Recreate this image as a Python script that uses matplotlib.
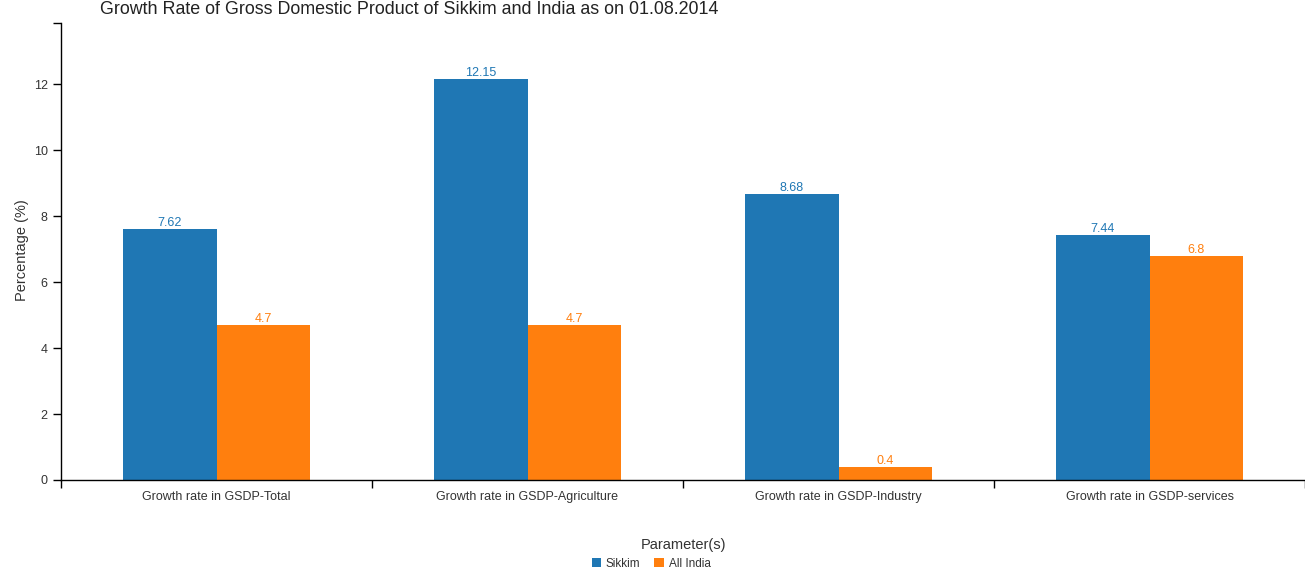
import numpy as np
import matplotlib.pyplot as plt
from matplotlib.ticker import FixedLocator, NullFormatter

plt.rcParams['font.family'] = ['Liberation Sans', 'DejaVu Sans']

# Chart data
categories = ["Growth rate in GSDP-Total", "Growth rate in GSDP-Agriculture",
              "Growth rate in GSDP-Industry", "Growth rate in GSDP-services"]
sikkim = [7.62, 12.15, 8.68, 7.44]
all_india = [4.7, 4.7, 0.4, 6.8]
series_names = ["Sikkim", "All India"]
colors = ["#1f77b4", "#ff7f0e"]

W, H = 1305, 580
fig = plt.figure(figsize=(W / 100, H / 100), dpi=100)
ax = fig.add_axes([61 / W, 100 / H, (W - 61) / W, (480 - 23) / H])

x = np.arange(len(categories))
width = 0.3
for offset, vals, name, col in [(-width / 2, sikkim, series_names[0], colors[0]),
                                (width / 2, all_india, series_names[1], colors[1])]:
    bars = ax.bar(x + offset, vals, width, color=col, label=name)
    for b, v in zip(bars, vals):
        ax.annotate(f"{v:g}", (b.get_x() + b.get_width() / 2, v),
                    xytext=(0, 0), textcoords="offset points",
                    ha="center", va="bottom", fontsize=9, color=col)

ymax = 12.15 * 1.14
ax.set_ylim(0, ymax)
ax.set_xlim(-0.5, len(categories) - 0.5)

# y ticks plus outer tick at the top
ax.set_yticks([0, 2, 4, 6, 8, 10, 12])
ax.yaxis.set_minor_locator(FixedLocator([ymax]))
ax.tick_params(axis="y", which="both", length=6, width=1, labelsize=9, colors="black")
for lbl in ax.get_yticklabels():
    lbl.set_color("#333333")

# x: ticks at band boundaries, labels at centres
ax.xaxis.set_major_locator(FixedLocator(np.arange(-0.5, len(categories), 1.0)))
ax.xaxis.set_major_formatter(NullFormatter())
ax.xaxis.set_minor_locator(FixedLocator(x))
ax.set_xticklabels(categories, minor=True)
ax.tick_params(axis="x", which="major", length=6, width=1)
ax.tick_params(axis="x", which="minor", length=0, labelsize=9, pad=8)
for lbl in ax.get_xticklabels(minor=True):
    lbl.set_color("#333333")

for s in ["top", "right"]:
    ax.spines[s].set_visible(False)
ax.spines["left"].set_linewidth(1)
ax.spines["bottom"].set_linewidth(1)

fig.text(22 / W, 1 - 250 / H, "Percentage (%)", rotation=90, ha="center", va="center",
         fontsize=10.5, color="#333333")
fig.text(100 / W, 1 - 10 / H, "Growth Rate of Gross Domestic Product of Sikkim and India as on 01.08.2014",
         ha="left", va="center", fontsize=12.9, color="#222222")
fig.text(683 / W, 1 - 545 / H, "Parameter(s)", ha="center", va="center",
         fontsize=10.5, color="#333333")

leg = fig.legend(loc="center", bbox_to_anchor=(651 / W, 1 - 564 / H), ncol=2, frameon=False,
                 fontsize=8.5, handlelength=0.8, handleheight=0.8, handletextpad=0.4,
                 columnspacing=1.2, borderaxespad=0)
for t in leg.get_texts():
    t.set_color("#333333")

fig.savefig("out.png", dpi=100)
